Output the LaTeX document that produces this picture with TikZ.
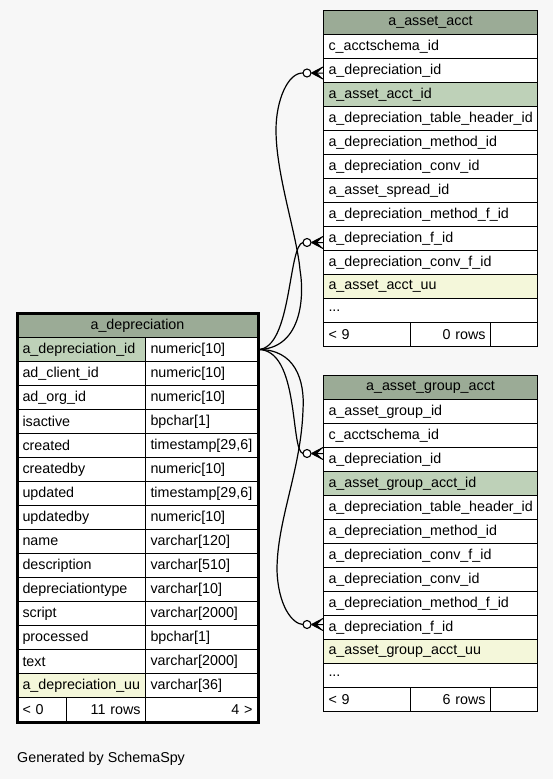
\documentclass[tikz,border=0pt]{standalone}
\usepackage{fontspec}
\setmainfont{Liberation Sans}
\usetikzlibrary{calc}
\definecolor{titlebg}{HTML}{9BAB96}
\definecolor{pkbg}{HTML}{BED1B8}
\definecolor{uubg}{HTML}{F4F7DA}
\definecolor{pagebg}{HTML}{F7F7F7}
\newcommand{\morecols}{...}

\begin{document}
\begin{tikzpicture}[x=1pt,y=-1pt,
    font=\fontsize{14.3}{17}\selectfont,
    cell/.style={draw, line width=1pt, fill=white, anchor=north west,
      minimum height=24pt, inner xsep=5pt, inner ysep=0pt,
      text width=#1, align=left},
    rel/.style={line width=1.2pt},
    crowodot/.pic={
      \draw[fill=white, line width=1.1pt] (4,0) circle (4);
      \fill (8.5,0) -- (20,-6) -- (14,0) -- (20,6) -- cycle;
      \draw[line width=1pt] (8.5,0) -- (20,-6) (8.5,0) -- (20,0) (8.5,0) -- (20,6);
    }]
  \fill[pagebg] (0,0) rectangle (553,779);

  % focus table
  \node[cell=230pt, fill=titlebg, align=center] (dep) at (17,313) {a\_depreciation};
  \foreach \n/\t/\f [count=\i] in {a\_depreciation\_id/numeric[10]/pkbg,
      ad\_client\_id/numeric[10]/white, ad\_org\_id/numeric[10]/white,
      isactive/bpchar[1]/white, created/{timestamp[29,6]}/white,
      createdby/numeric[10]/white, updated/{timestamp[29,6]}/white,
      updatedby/numeric[10]/white, name/varchar[120]/white,
      description/varchar[510]/white, depreciationtype/varchar[10]/white,
      script/varchar[2000]/white, processed/bpchar[1]/white,
      text/varchar[2000]/white, a\_depreciation\_uu/varchar[36]/uubg}
  {
    \node[cell=118pt, fill=\f] (n\i) at (17,{313+24*\i}) {\n};
    \node[cell=102pt] (t\i) at (145,{313+24*\i}) {\t};
  }
  \node[cell=39pt] (dfoot1) at (17,697) {< 0};
  \node[cell=69pt, align=right] (dfoot2) at (66,697) {11 rows};
  \node[cell=102pt, align=right] (dfoot3) at (145,697) {4 >};
  \draw[line width=3pt] (dep.north west) rectangle (dfoot3.south east);

  % a_asset_acct
  \node[cell=204pt, fill=titlebg, align=center] (acct) at (323,10) {a\_asset\_acct};
  \foreach \n/\f [count=\i] in {c\_acctschema\_id/white, a\_depreciation\_id/white,
      a\_asset\_acct\_id/pkbg, a\_depreciation\_table\_header\_id/white,
      a\_depreciation\_method\_id/white, a\_depreciation\_conv\_id/white,
      a\_asset\_spread\_id/white, a\_depreciation\_method\_f\_id/white,
      a\_depreciation\_f\_id/white, a\_depreciation\_conv\_f\_id/white,
      a\_asset\_acct\_uu/uubg, \morecols/white}
    \node[cell=204pt, fill=\f] (aa\i) at (323,{10+24*\i}) {\n};
  \node[cell=77pt] (afoot1) at (323,322) {< 9};
  \node[cell=70pt, align=right] (afoot2) at (410,322) {0 rows};
  \node[cell=37pt] (afoot3) at (490,322) {};

  % a_asset_group_acct
  \node[cell=204pt, fill=titlebg, align=center] (grp) at (323,375) {a\_asset\_group\_acct};
  \foreach \n/\f [count=\i] in {a\_asset\_group\_id/white, c\_acctschema\_id/white,
      a\_depreciation\_id/white, a\_asset\_group\_acct\_id/pkbg,
      a\_depreciation\_table\_header\_id/white, a\_depreciation\_method\_id/white,
      a\_depreciation\_conv\_f\_id/white, a\_depreciation\_conv\_id/white,
      a\_depreciation\_method\_f\_id/white, a\_depreciation\_f\_id/white,
      a\_asset\_group\_acct\_uu/uubg, \morecols/white}
    \node[cell=204pt, fill=\f] (ag\i) at (323,{375+24*\i}) {\n};
  \node[cell=77pt] (gfoot1) at (323,687) {< 9};
  \node[cell=70pt, align=right] (gfoot2) at (410,687) {6 rows};
  \node[cell=37pt] (gfoot3) at (490,687) {};

  % relationships
  \coordinate (e1) at ($(aa2.west)+(-20,2.5)$);
  \coordinate (e2) at ($(aa9.west)+(-20,4)$);
  \coordinate (e3) at ($(ag3.west)+(-20,-6)$);
  \coordinate (e4) at ($(ag10.west)+(-20,-3)$);
  \draw[rel] (t1.east) .. controls (300,349) and (305,300) .. (300,270)
    .. controls (297,235) and (276,175) .. (276,130)
    .. controls (276,100) and (288,72.5) .. (e1);
  \draw[rel] (t1.east) .. controls (292,349) and (288,245) .. (e2);
  \draw[rel] (t1.east) .. controls (300,349) and (290,451) .. (e3);
  \draw[rel] (t1.east) .. controls (295,349) and (305,380) .. (303,410)
    .. controls (301,470) and (277,520) .. (277,570)
    .. controls (278,605) and (292,624) .. (e4);
  \foreach \e in {e1,e2,e3,e4}
    \pic at (\e) {crowodot};

  \node[anchor=west, inner sep=0pt] (gen) at (17,759) {Generated by SchemaSpy};
\end{tikzpicture}
\end{document}
